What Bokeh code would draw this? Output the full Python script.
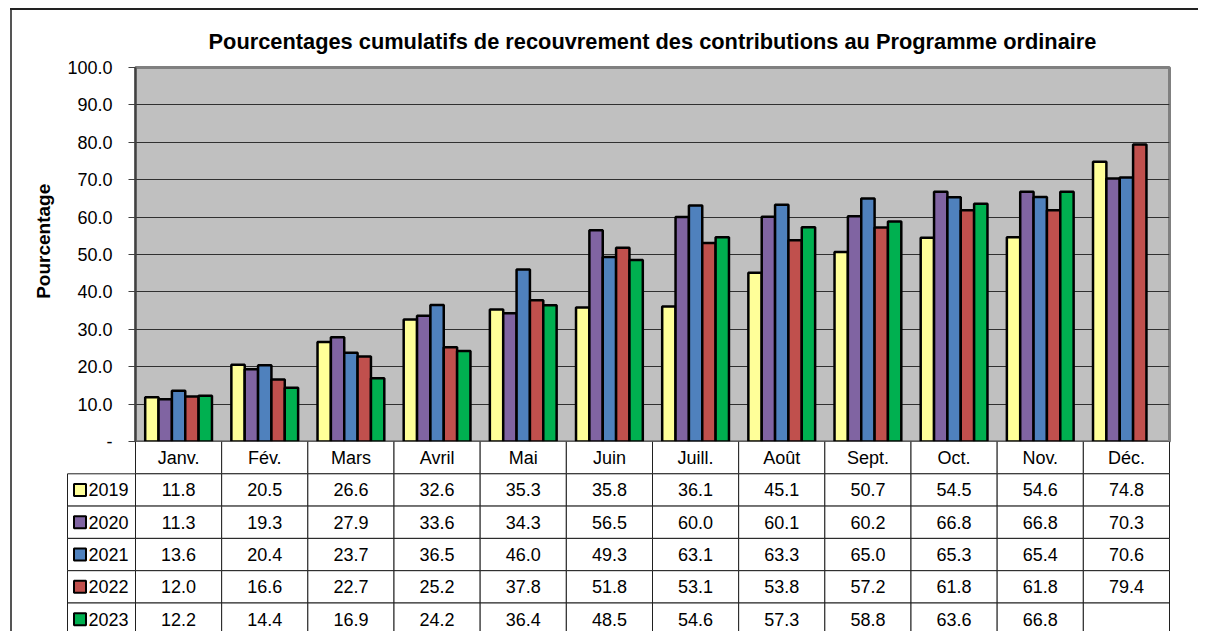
from bokeh.plotting import figure
from bokeh.models import (ColumnDataSource, FactorRange, Range1d, FixedTicker,
                          NumeralTickFormatter)
from bokeh.transform import dodge
from bokeh.core.properties import value
from bokeh.embed import file_html
from bokeh.resources import INLINE

months = ["Janv.", "Fév.", "Mars", "Avril", "Mai", "Juin", "Juill.", "Août",
          "Sept.", "Oct.", "Nov.", "Déc."]
years = ["2019", "2020", "2021", "2022", "2023"]
v2019 = [11.8, 20.5, 26.6, 32.6, 35.3, 35.8, 36.1, 45.1, 50.7, 54.5, 54.6, 74.8]
v2020 = [11.3, 19.3, 27.9, 33.6, 34.3, 56.5, 60.0, 60.1, 60.2, 66.8, 66.8, 70.3]
v2021 = [13.6, 20.4, 23.7, 36.5, 46.0, 49.3, 63.1, 63.3, 65.0, 65.3, 65.4, 70.6]
v2022 = [12.0, 16.6, 22.7, 25.2, 37.8, 51.8, 53.1, 53.8, 57.2, 61.8, 61.8, 79.4]
v2023 = [12.2, 14.4, 16.9, 24.2, 36.4, 48.5, 54.6, 57.3, 58.8, 63.6, 66.8, None]
series = [v2019, v2020, v2021, v2022, v2023]
colors = ["#FFFF99", "#8064A2", "#4F81BD", "#C0504D", "#00B050"]
y_ticks = [0, 10, 20, 30, 40, 50, 60, 70, 80, 90, 100]

FONT = "Liberation Sans"
TITLE = "Pourcentages cumulatifs de recouvrement des contributions au Programme ordinaire"

W = 1198
FL, FR, FT, FB = 135, 1169, 67, 441   # frame edges in page pixels
OVER = 12                             # space below frame for the "-" label

chart_border = {
    "background": ("linear-gradient(#222,#222) 10px 8px / 100% 2px no-repeat, "
                   "linear-gradient(#555,#555) 10px 8px / 2px 100% no-repeat")
}

# ---------------- chart ----------------
data = {"month": months}
for yr, vals in zip(years, series):
    data[yr] = [float("nan") if v is None else v for v in vals]
src = ColumnDataSource(data)

p = figure(width=W, height=FB + OVER, x_range=FactorRange(*months, range_padding=0),
           y_range=Range1d(0, 100), output_backend="svg", toolbar_location=None,
           min_border_left=FL, min_border_right=W - FR, min_border_top=FT,
           min_border_bottom=OVER, background_fill_color="#C0C0C0",
           border_fill_color=None, styles=chart_border)
p.outline_line_color = "#808080"
p.outline_line_width = 3

p.title.text = TITLE
p.title.align = "center"
p.title.text_font = FONT
p.title.text_font_size = "21.8px"
p.title.text_font_style = "bold"
p.title.text_color = "black"
p.title.offset = 18
p.title.standoff = 27

bw = 0.155
offsets = [-2 * bw, -bw, 0, bw, 2 * bw]
for yr, col, off in zip(years, colors, offsets):
    p.vbar(x=dodge("month", off, range=p.x_range), top=yr, width=bw, source=src,
           fill_color=col, line_color="black", line_width=2.5)

p.xaxis.visible = False
p.xgrid.visible = False
p.ygrid.ticker = FixedTicker(ticks=y_ticks)
p.ygrid.grid_line_color = "#303030"
p.ygrid.grid_line_width = 1

ya = p.yaxis[0]
ya.ticker = FixedTicker(ticks=y_ticks)
ya.formatter = NumeralTickFormatter(format="0.0")
ya.major_label_overrides = {0: "-"}
ya.major_tick_out = 7
ya.major_tick_in = 0
ya.minor_tick_out = 0
ya.minor_tick_in = 0
ya.axis_line_color = "#404040"
ya.axis_line_width = 2
ya.major_tick_line_color = "#404040"
ya.major_label_text_font = FONT
ya.major_label_text_font_size = "18px"
ya.major_label_text_color = "black"
ya.major_label_standoff = 16
ya.axis_label = "\u00a0" * 5 + "Pourcentage"
ya.axis_label_text_font = FONT
ya.axis_label_text_font_size = "19px"
ya.axis_label_text_font_style = "bold"
ya.axis_label_text_color = "black"
ya.axis_label_standoff = 10

# ---------------- data table ----------------
unit = (FR - FL) / 12.0
x_left = (0 - FL) / unit
x_right = 12 + (W - FR) / unit
leg_left = (67 - FL) / unit
TH = 190
row_px = 32.3

t = figure(width=W, height=TH, x_range=Range1d(x_left, x_right),
           y_range=Range1d(TH / row_px, 0), output_backend="svg",
           toolbar_location=None, min_border=0, min_border_left=0,
           min_border_right=0, min_border_top=0, min_border_bottom=0,
           styles={"margin-top": "-%dpx" % OVER,
                   "background": "linear-gradient(#555,#555) 10px 0 / 2px 100% no-repeat"})
t.axis.visible = False
t.grid.visible = False
t.outline_line_color = None
t.background_fill_color = None
t.border_fill_color = None

cx, cy, labels = [], [], []
for i, m in enumerate(months):
    cx.append(i + 0.5); cy.append(0.5); labels.append(m)
for r, vals in enumerate(series):
    for i, v in enumerate(vals):
        cx.append(i + 0.5); cy.append(r + 1.5)
        labels.append("" if v is None else "%.1f" % v)
cells = ColumnDataSource(dict(x=cx, y=cy, label=labels))
t.rect(x="x", y="y", width=1, height=1, source=cells, fill_color="white",
       line_color="#202020", line_width=1)
t.text(x="x", y="y", text="label", source=cells, text_align="center",
       text_baseline="middle", text_font=value(FONT), text_font_size="18px",
       text_color="black")

lx = [(leg_left) / 2.0] * len(years)
ly = [r + 1.5 for r in range(len(years))]
leg = ColumnDataSource(dict(x=lx, y=ly))
t.rect(x="x", y="y", width=-leg_left, height=1, source=leg, fill_color="white",
       line_color="#202020", line_width=1)
key_x = (79.5 - FL) / unit
txt_x = (88 - FL) / unit
t.scatter(x=[key_x] * len(years), y=ly, marker="square", size=12,
          fill_color=colors, line_color="black", line_width=2)
t.text(x=[txt_x] * len(years), y=ly, text=years, text_align="left",
       text_baseline="middle", text_font=value(FONT), text_font_size="18px",
       text_color="black")

open("out.html", "w").write(file_html([p, t], INLINE))
